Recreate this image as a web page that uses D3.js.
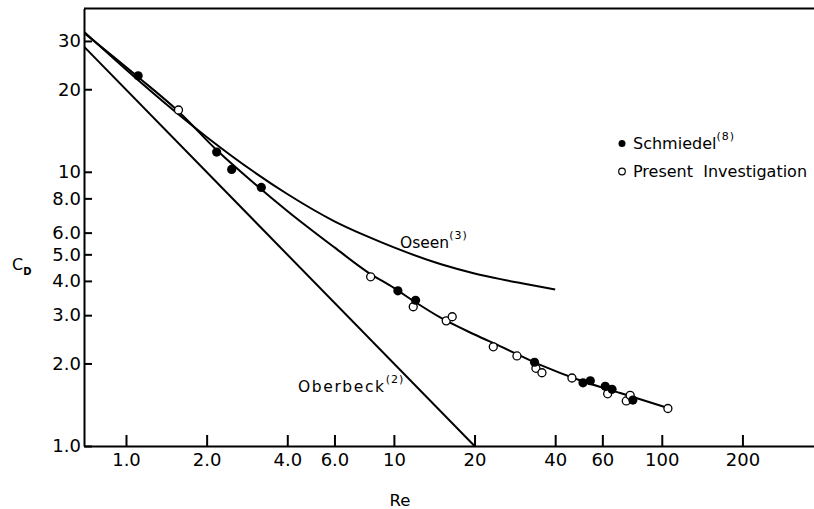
<!DOCTYPE html>
<html>
<head>
<meta charset="utf-8">
<script src="https://cdn.jsdelivr.net/npm/d3@7.9.0/dist/d3.min.js"></script>
<style>
  body { margin: 0; background: #fff; }
  svg { display: block; font-family: "DejaVu Sans", sans-serif; }
  .axis path, .axis line { stroke: #000; stroke-width: 2; }
</style>
</head>
<body>
<svg id="chart" width="814" height="509"></svg>
<script>
// tick values and labels
const reTicks = [1, 2, 4, 6, 10, 20, 40, 60, 100, 200];
const reTickLabels = ["1.0", "2.0", "4.0", "6.0", "10", "20", "40", "60", "100", "200"];
const cdTicks = [1, 2, 3, 4, 5, 6, 8, 10, 20, 30];
const cdTickLabels = ["1.0", "2.0", "3.0", "4.0", "5.0", "6.0", "8.0", "10", "20", "30"];

// Schmiedel (filled)
const schmiedelRe = [1.11, 2.18, 2.48, 3.2, 10.35, 12.05, 33.5, 50.8, 54.1, 61.5, 65.2, 78.0];
const schmiedelCd = [22.4, 11.8, 10.2, 8.77, 3.68, 3.40, 2.02, 1.70, 1.73, 1.65, 1.61, 1.47];

// present investigation (open)
const presentRe = [1.57, 8.19, 11.81, 15.68, 16.51, 23.5, 28.8, 33.9, 35.7, 46.2, 62.8, 73.7, 76.2, 105.4];
const presentCd = [16.8, 4.14, 3.22, 2.86, 2.96, 2.30, 2.13, 1.92, 1.85, 1.77, 1.55, 1.46, 1.53, 1.37];

// curves
const oseenRe = [0.7, 1.0, 1.5, 2.0, 3.0, 4.0, 6.0, 8.0, 10, 15, 20, 25, 30, 40];
const oseenCd = [32.3, 23.6, 16.8, 13.4, 10.0, 8.3, 6.6, 5.8, 5.3, 4.6, 4.26, 4.06, 3.92, 3.72];
const fitRe = [0.7, 1.1, 1.57, 2.2, 3.0, 4.0, 6.0, 8.0, 10, 12, 15, 20, 25, 35, 50, 70, 107];
const fitCd = [32.0, 22.3, 16.6, 11.9, 9.1, 7.2, 5.3, 4.3, 3.77, 3.35, 2.93, 2.55, 2.31, 1.98, 1.73, 1.56, 1.37];
const oberbeckRe = [0.697, 20];
const oberbeckCd = [28.6, 1.0];

const svg = d3.select('#chart');
svg.append('rect').attr('width', 814).attr('height', 509).attr('fill', '#fff');

let x = d3.scaleLog().domain([0.697, 370]).range([84, 814]);
let y = d3.scaleLog().domain([1, 39.4]).range([446, 8.5]);

svg.append('defs').append('clipPath').attr('id', 'clip')
  .append('rect').attr('x', 84).attr('y', 8).attr('width', 730).attr('height', 438);

// axes
let xAxis = svg.append('g').attr('class', 'axis')
  .attr('transform', 'translate(0,446)')
  .call(d3.axisBottom(x).tickValues(reTicks).tickFormat((d, i) => reTickLabels[i])
    .tickSizeInner(-11).tickSizeOuter(0).tickPadding(7));

let yAxis = svg.append('g').attr('class', 'axis')
  .attr('transform', 'translate(84,0)')
  .call(d3.axisLeft(y).tickValues(cdTicks).tickFormat((d, i) => cdTickLabels[i])
    .tickSizeInner(-8).tickSizeOuter(0).tickPadding(3));

[xAxis, yAxis].forEach(g => g.selectAll('text')
  .style('font-size', '18px').style('font-family', '"DejaVu Sans", sans-serif').attr('fill', '#000'));

// top frame
svg.append('line').attr('x1', 84).attr('x2', 814).attr('y1', 8.5).attr('y2', 8.5)
  .attr('stroke', '#000').attr('stroke-width', 2);

// curves
let line = d3.line().x(d => x(d[0])).y(d => y(d[1])).curve(d3.curveMonotoneX);
const plot = svg.append('g').attr('clip-path', 'url(#clip)');
[[oberbeckRe, oberbeckCd], [oseenRe, oseenCd], [fitRe, fitCd]].forEach(([xs, ys]) => {
  plot.append('path')
    .attr('d', line(d3.zip(xs, ys)))
    .attr('fill', 'none').attr('stroke', '#000').attr('stroke-width', 2);
});

// points
plot.selectAll('.open').data(d3.zip(presentRe, presentCd)).join('circle')
  .attr('class', 'open')
  .attr('cx', d => x(d[0])).attr('cy', d => y(d[1])).attr('r', 4)
  .attr('fill', '#fff').attr('stroke', '#000').attr('stroke-width', 1.3);
plot.selectAll('.filled').data(d3.zip(schmiedelRe, schmiedelCd)).join('circle')
  .attr('class', 'filled')
  .attr('cx', d => x(d[0])).attr('cy', d => y(d[1])).attr('r', 4.6)
  .attr('fill', '#000');

// labels
function label(tx, ty, main, sup, size, spacing) {
  let t = svg.append('text').attr('x', tx).attr('y', ty)
    .attr('font-size', size).attr('letter-spacing', spacing || 0)
    .style('white-space', 'pre');
  t.append('tspan').text(main);
  if (sup) t.append('tspan').attr('dy', -9).attr('font-size', 11).attr('letter-spacing', 1).text(sup);
  return t;
}
label(400, 248, 'Oseen', '(3)', 15.5);
label(298, 392, 'Oberbeck', '(2)', 15.5, 1.6);
label(633, 149, 'Schmiedel', '(8)', 16);
label(633, 177, 'Present  Investigation', null, 16);

svg.append('circle').attr('cx', 622).attr('cy', 143.5).attr('r', 3.5).attr('fill', '#000');
svg.append('circle').attr('cx', 622).attr('cy', 171.5).attr('r', 3.3)
  .attr('fill', '#fff').attr('stroke', '#000').attr('stroke-width', 1.2);

svg.append('text').attr('x', 400).attr('y', 506).attr('text-anchor', 'middle')
  .attr('font-size', 16.5).text('Re');
let cd = svg.append('text').attr('x', 12).attr('y', 270).attr('font-size', 16);
cd.append('tspan').text('C');
cd.append('tspan').attr('dy', 5).attr('font-size', 10).attr('font-weight', 'bold').text('D');
</script>
</body>
</html>
